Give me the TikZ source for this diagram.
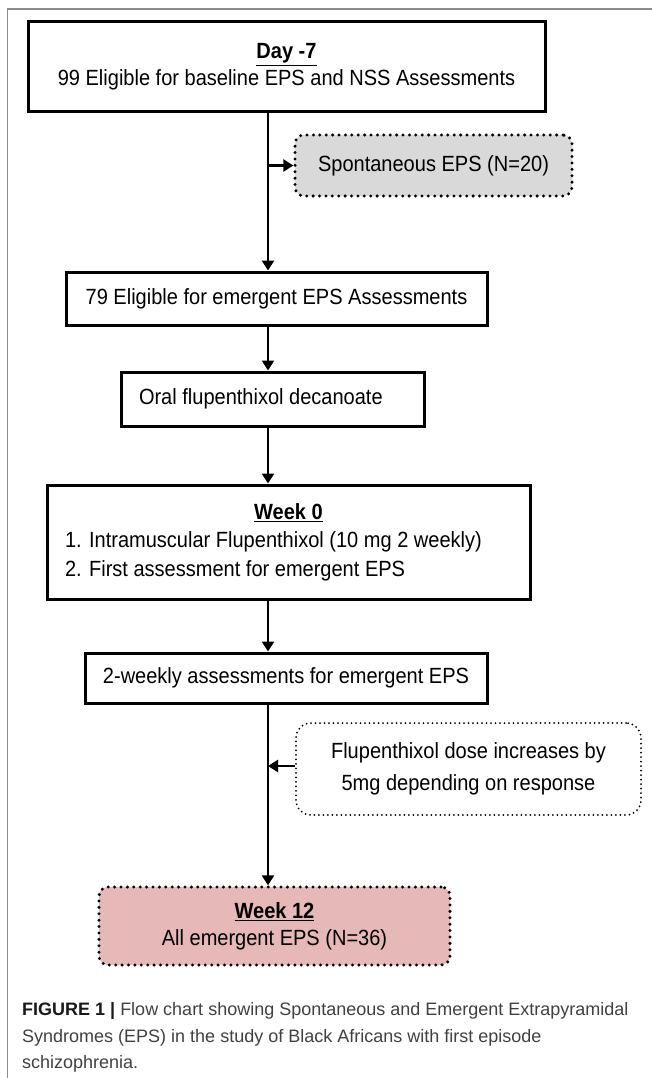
\documentclass[tikz,border=0pt]{standalone}
\usepackage{fontspec}
\setmainfont{Liberation Sans}
\newfontfamily\boxfont[FakeStretch=0.91]{Liberation Sans}
\usetikzlibrary{arrows.meta}
\definecolor{weekpink}{HTML}{E6B8B7}
\definecolor{spontgrey}{HTML}{D9D9D9}

\begin{document}
\begin{tikzpicture}[x=1pt,y=-1pt,
    box/.style={draw=black,line width=3pt,fill=white,inner sep=0pt,align=center,
        font=\boxfont\fontsize{22}{27}\selectfont},
    dotbox/.style={draw=black,line width=3.3pt,dash pattern=on 0pt off 6.4pt,line cap=round,
        rounded corners=9pt,inner sep=0pt,align=center,font=\boxfont\fontsize{22}{27}\selectfont},
    arr/.style={line width=2.5pt,-{Triangle[length=10pt,width=12pt]}}]

            \useasboundingbox (0,0) rectangle (652,1078);
            % grey frame round the figure
            \draw[black!45,line width=1.5pt] (7.5,1078) -- (7.5,9) -- (652,9);
            % x of the main line
            \coordinate (trunk) at (268,0);

            \node[box,minimum width=517pt,minimum height=90pt] (day7) at (286.5,67)
                {\underline{\textbf{Day -7}}\\99 Eligible for baseline EPS and NSS Assessments};
            \node[dotbox,fill=spontgrey,minimum width=277pt,minimum height=61pt] (spont) at (433.5,165.5)
                {Spontaneous EPS (N=20)};
            \node[box,minimum width=421pt,minimum height=53pt] (elig) at (276.5,298.5)
                {79 Eligible for emergent EPS Assessments};
            \node[box,align=flush left,inner xsep=18pt,text width=267pt,minimum height=54pt] (oral) at (272.5,399)
                {Oral flupenthixol decanoate};
            % week 0: heading centred, list left
            \node[box,align=flush left,inner xsep=18pt,text width=447pt,minimum height=114pt,
                font=\boxfont\fontsize{22}{28.5}\selectfont] (week0) at (288.5,542)
                {\makebox[\hsize]{\underline{\textbf{Week 0}}}\\
                 1. Intramuscular Flupenthixol (10 mg 2 weekly)\\
                 2. First assessment for emergent EPS};
            \node[box,minimum width=402pt,minimum height=50pt] (wk2) at (286,678)
                {2-weekly assessments for emergent EPS};
            \node[dotbox,line width=2pt,dash pattern=on 0pt off 4.5pt,rounded corners=15pt,
                minimum width=345pt,minimum height=92pt,font=\boxfont\fontsize{22}{32}\selectfont] (dose) at (468.5,769)
                {Flupenthixol dose increases by\\5mg depending on response};
            \node[dotbox,fill=weekpink,minimum width=351pt,minimum height=78pt] (wk12) at (274.5,926)
                {\underline{\textbf{Week 12}}\\All emergent EPS (N=36)};

            % arrows down the main line
            \draw[arr] (day7.south -| trunk) -- (elig.north -| trunk);
            \draw[arr] (spont.west -| trunk) -- (spont.west);
            \draw[arr] (elig.south -| trunk) -- (oral.north -| trunk);
            \draw[arr] (oral.south -| trunk) -- (week0.north -| trunk);
            \draw[arr] (week0.south -| trunk) -- (wk2.north -| trunk);
            \draw[arr] (wk2.south -| trunk) -- (wk12.north -| trunk);
            % dose change joins the line
            \draw[arr] ([yshift=3pt]dose.west) -- ([yshift=3pt]dose.west -| trunk);

            % caption
            \node[anchor=north west,align=flush left,inner sep=0pt,text=black!75,
                font=\fontsize{18}{26.5}\selectfont] (caption) at (22,1002.5)
                {\textcolor{black!90}{\textbf{FIGURE 1 |}} Flow chart showing Spontaneous and Emergent Extrapyramidal\\
                 Syndromes (EPS) in the study of Black Africans with first episode\\
                 schizophrenia.};
        \end{tikzpicture}
\end{document}
